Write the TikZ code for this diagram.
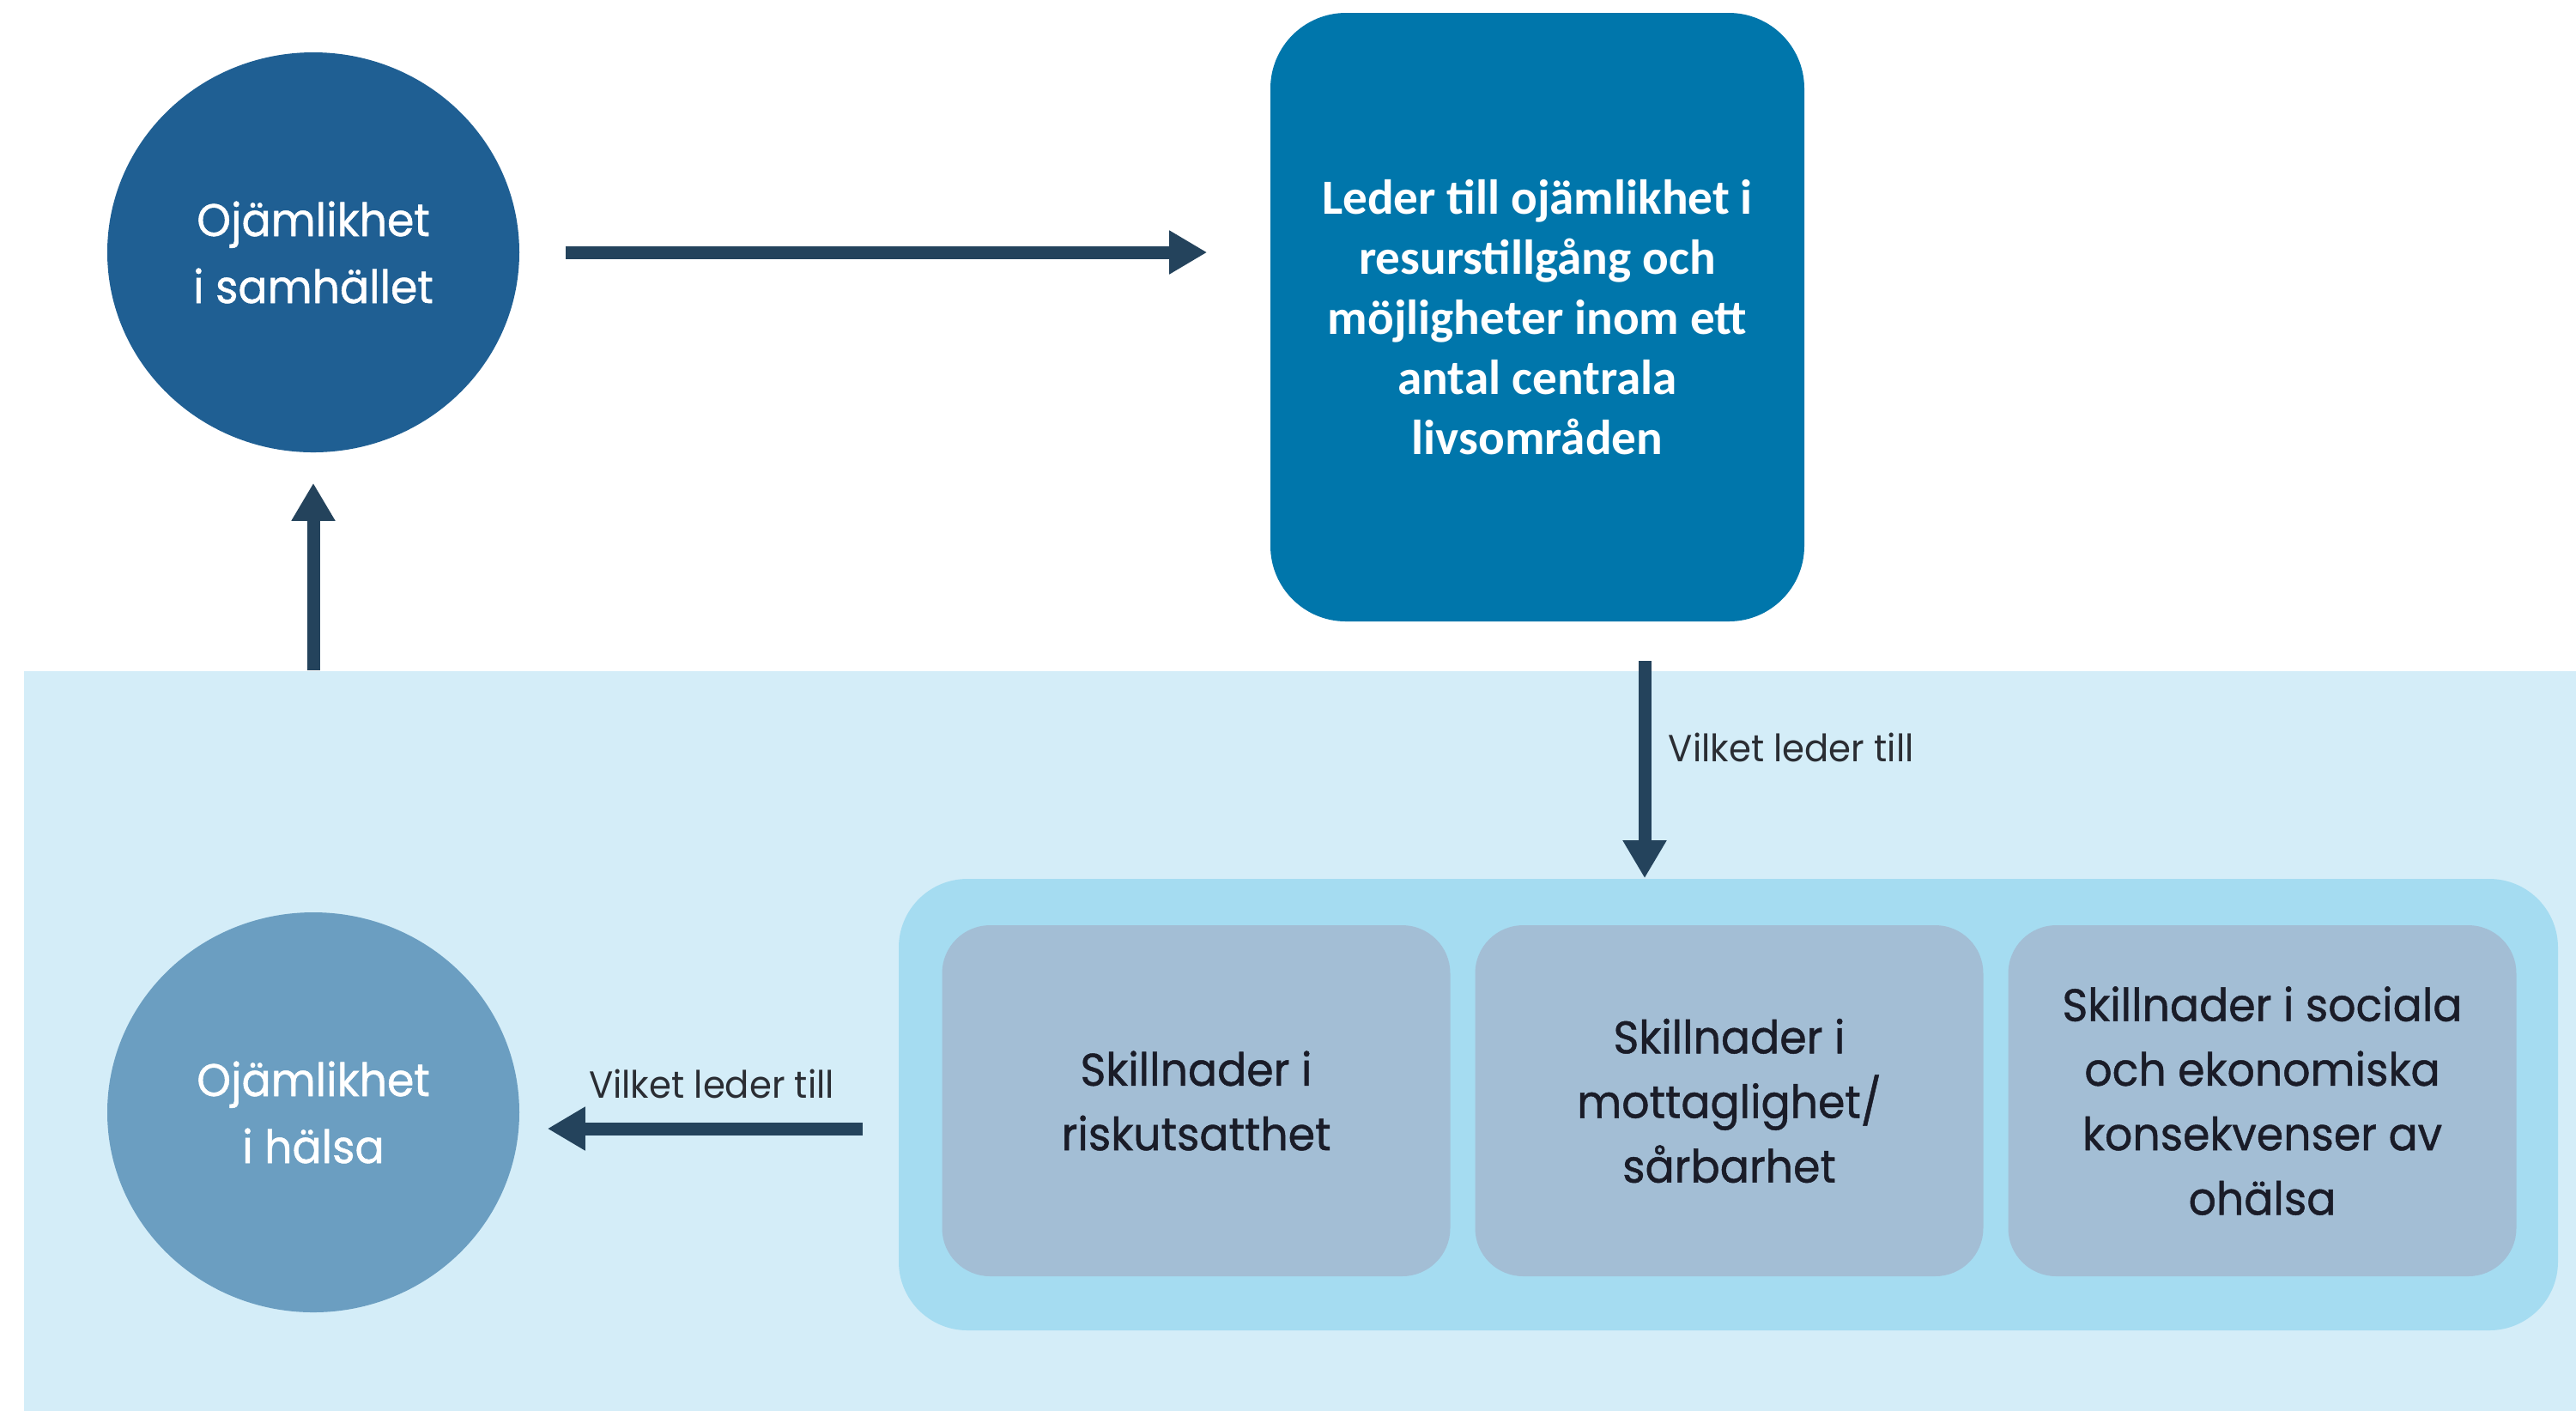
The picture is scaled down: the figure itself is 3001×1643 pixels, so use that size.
\documentclass[tikz,border=0pt]{standalone}
\usepackage{fontspec}
\setmainfont[FakeStretch=0.95]{Poppins}
\newfontfamily\medfont[FakeStretch=0.95,FakeBold=0.9]{Poppins}
\newfontfamily\boxfont{Carlito}
\usetikzlibrary{shapes.geometric,arrows.meta}
\definecolor{darkcirc}{HTML}{1F5F93}
\definecolor{topbox}{HTML}{0076AB}
\definecolor{band}{HTML}{D4EDF8}
\definecolor{cont}{HTML}{A5DCF1}
\definecolor{inner}{HTML}{A3BED5}
\definecolor{lightcirc}{HTML}{6B9EC1}
\definecolor{arrowc}{HTML}{24435C}
\definecolor{txt}{HTML}{1A1C28}
\definecolor{labtxt}{HTML}{2A2D33}
\tikzset{
  circnode/.style={ellipse, minimum width=120pt, minimum height=116.5pt, inner sep=0pt, text=white, align=center, font=\medfont\fontsize{13.3}{19.5}\selectfont},
  innerbox/.style={rectangle, rounded corners=14pt, fill=inner, minimum width=148pt, minimum height=102.25pt, text=txt, align=center, font=\medfont\fontsize{13.3}{18.8}\selectfont},
  arr/.style={draw=arrowc, line width=3.75pt, -{Triangle[width=12pt,length=11pt]}},
  lab/.style={text=labtxt, font=\fontsize{11}{13}\selectfont, inner sep=0pt}
}
\begin{document}
\begin{tikzpicture}[x=0.25pt,y=-0.25pt]
\useasboundingbox (0,0) rectangle (3001,1643);
\fill[white] (0,0) rectangle (3001,1643);
% light band
\node[rectangle, fill=band, minimum width=743.5pt, minimum height=215.5pt, inner sep=0pt, anchor=north west] (band) at (27,781) {};
% top circle
\node[circnode, fill=darkcirc] (c1) at (365,294) {Ojämlikhet\\i samhället};
% top box
\node[rectangle, rounded corners=22pt, fill=topbox, minimum width=155.5pt, minimum height=177.25pt, text=white, align=center, font=\boxfont\bfseries\fontsize{14.3}{17.5}\selectfont] (box) at (1791,369.5) {Leder till ojämlikhet i\\resurstillgång och\\möjligheter inom ett\\antal centrala\\livsområden};
% container
\node[rectangle, rounded corners=20pt, fill=cont, minimum width=483.25pt, minimum height=131.5pt] (cont) at (2013.5,1287) {};
\node[innerbox] (s1) at (1393.5,1282.5) {Skillnader i\\riskutsatthet};
\node[innerbox] (s2) at (2014.5,1282.5) {Skillnader i\\mottaglighet/\\sårbarhet};
\node[innerbox] (s3) at (2635.5,1282.5) {Skillnader i sociala\\och ekonomiska\\konsekvenser av\\ohälsa};
% bottom circle
\node[circnode, fill=lightcirc] (c2) at (365,1296) {Ojämlikhet\\i hälsa};
% arrows
\draw[arr, shorten <=13.25pt, shorten >=18.25pt] (c1.east) -- (box.west |- c1.east);
\draw[arr, shorten >=8.75pt] (c1.south |- band.north) -- (c1.south);
\coordinate (d1) at (1916,770);
\draw[arr] (d1) -- (d1 |- cont.north);
\coordinate (l1) at (1005,1315);
\draw[arr, shorten >=8pt] (l1) -- (l1 -| c2.east);
% labels
\node[lab, anchor=west] (lab1) at (1943,871) {Vilket leder till};
\node[lab] (lab2) at (829,1263) {Vilket leder till};
\end{tikzpicture}
\end{document}
